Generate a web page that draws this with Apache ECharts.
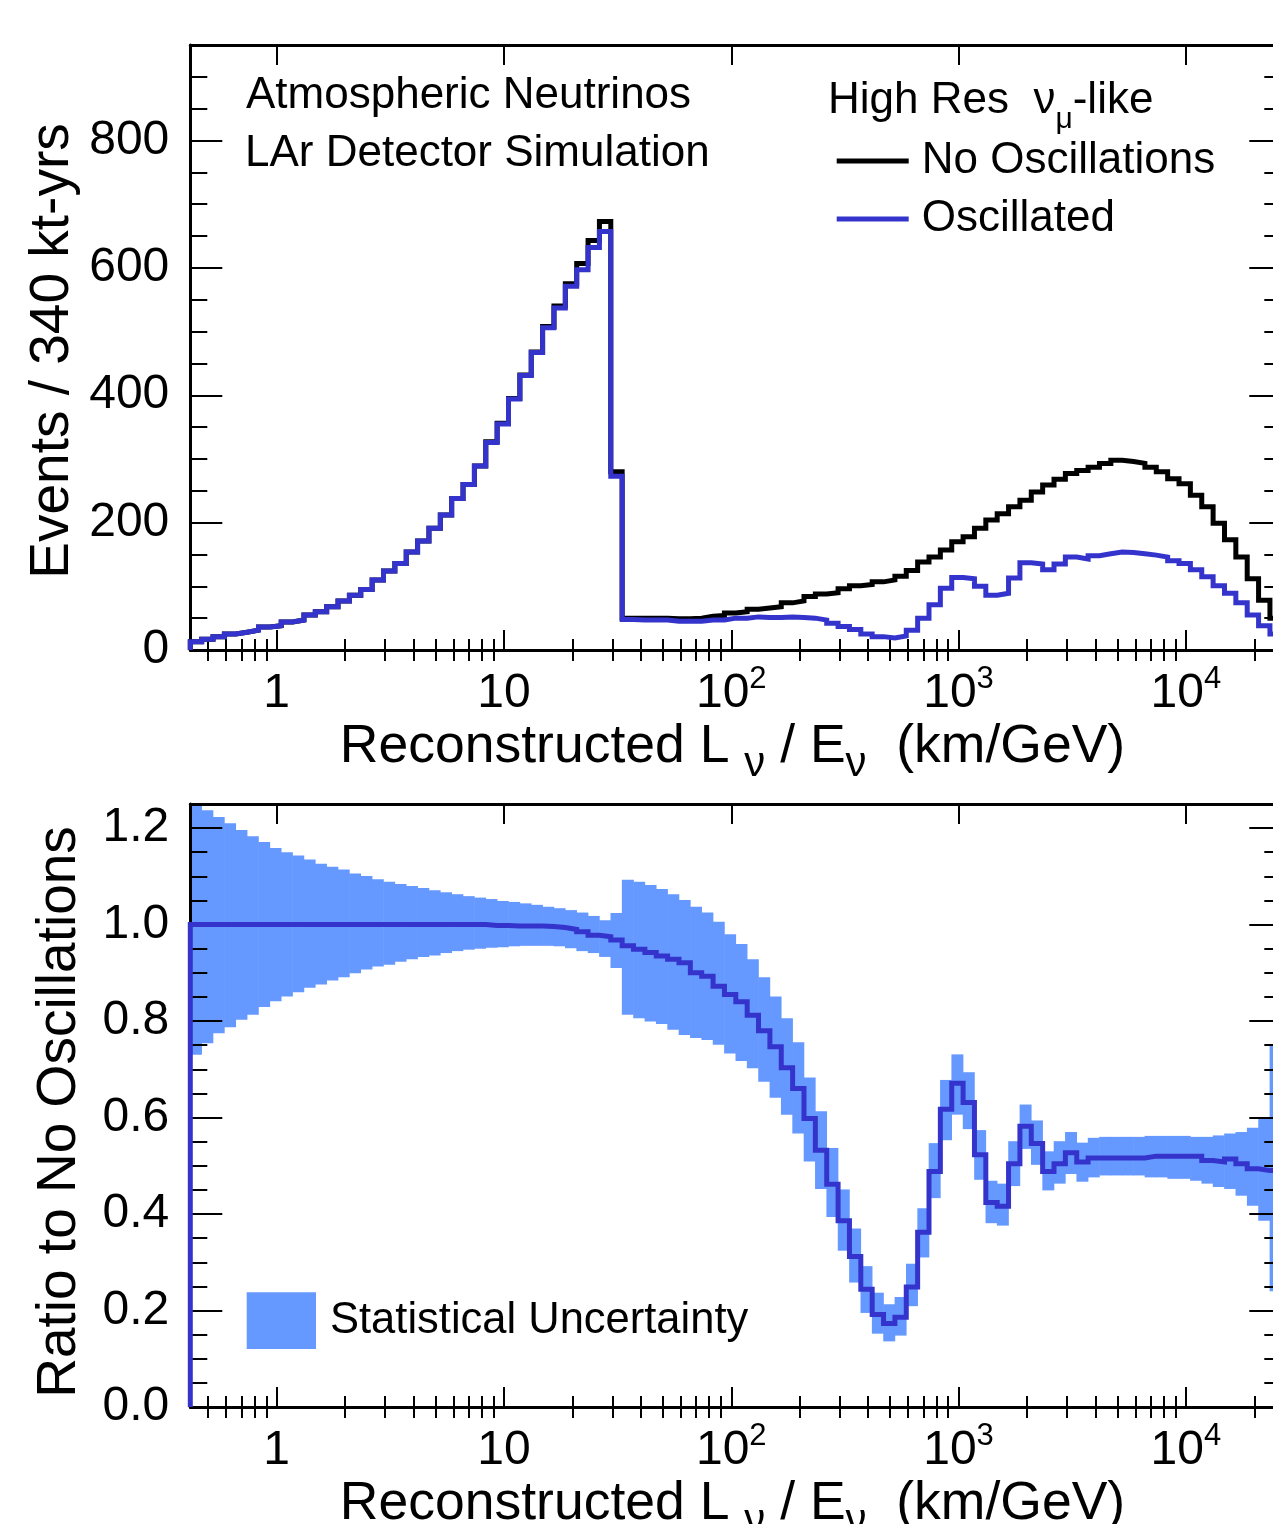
<!DOCTYPE html>
<html>
<head>
<meta charset="utf-8">
<title>Atmospheric Neutrinos – LAr Detector Simulation</title>
<script src="https://cdn.jsdelivr.net/npm/echarts@6.0.0/dist/echarts.min.js"></script>
<style>
html,body{margin:0;padding:0;background:#ffffff;}
#chart{width:1273px;height:1524px;}
</style>
</head>
<body>
<div id="chart"></div>
<script>
// ---------- binning: log10 of reconstructed L/E (km/GeV) ----------
const LOG_EDGE_MIN = -0.38;
const LOG_BIN_WIDTH = 0.05;
const N_BINS = 96;

// ---------- top panel: events / 340 kt-yrs in each bin ----------
const noOscillations = [
  13, 17, 21, 25, 28, 31, 36, 38, 44, 47,
  55, 60, 68, 77, 86, 95, 110, 124, 136, 154,
  171, 191, 212, 238, 260, 289, 327, 356, 395, 432,
  468, 508, 540, 575, 607, 643, 673, 280, 50, 50,
  50, 50, 49, 49, 50, 53, 54, 58, 60, 64,
  66, 68, 74, 77, 84, 88, 90, 96, 101, 103,
  107, 110, 116, 125, 138, 146, 157, 170, 178, 191,
  204, 214, 225, 235, 248, 259, 268, 277, 282, 287,
  293, 298, 296, 293, 287, 280, 269, 261, 243, 225,
  199, 173, 146, 112, 78, 50
];
const oscillated = [
  13, 17, 21, 25, 28, 31, 36, 38, 44, 47,
  55, 60, 68, 77, 86, 95, 110, 124, 136, 154,
  171, 191, 212, 238, 260, 289, 326, 355, 394, 431,
  467, 506, 537, 571, 597, 632, 657, 273, 48, 47,
  47, 47, 45, 45, 45, 47, 47, 50, 50, 52,
  51, 51, 52, 51, 50, 47, 42, 37, 32, 25,
  21, 19, 22, 31, 50, 71, 97, 114, 112, 100,
  86, 89, 113, 137, 135, 126, 135, 146, 143, 148,
  151, 154, 153, 151, 149, 146, 140, 136, 126, 115,
  101, 89, 74, 55, 38, 25
];

// ---------- bottom panel: ratio to no oscillations ----------
const ratioToNoOsc = [
  1, 1, 1, 1, 1, 1, 1, 1, 1, 1,
  1, 1, 1, 1, 1, 1, 1, 1, 1, 1,
  1, 1, 1, 1, 1, 1, 0.998, 0.998, 0.997, 0.997,
  0.997, 0.996, 0.994, 0.990, 0.985, 0.978, 0.975, 0.968, 0.956, 0.949,
  0.942, 0.935, 0.928, 0.921, 0.900, 0.893, 0.872, 0.855, 0.840, 0.812,
  0.780, 0.747, 0.703, 0.660, 0.598, 0.532, 0.462, 0.386, 0.312, 0.244,
  0.192, 0.173, 0.186, 0.249, 0.362, 0.488, 0.617, 0.671, 0.631, 0.523,
  0.424, 0.416, 0.504, 0.582, 0.546, 0.488, 0.504, 0.527, 0.508, 0.516,
  0.516, 0.516, 0.516, 0.516, 0.520, 0.520, 0.520, 0.520, 0.520, 0.511,
  0.508, 0.514, 0.504, 0.494, 0.490, 0.490
];
const statHigh = [
  1.270, 1.237, 1.223, 1.210, 1.196, 1.183, 1.171, 1.159, 1.150, 1.143,
  1.135, 1.126, 1.120, 1.114, 1.106, 1.101, 1.094, 1.089, 1.084, 1.080,
  1.076, 1.071, 1.067, 1.063, 1.059, 1.056, 1.053, 1.049, 1.047, 1.044,
  1.041, 1.037, 1.034, 1.030, 1.025, 1.018, 1.009, 1.024, 1.093, 1.089,
  1.082, 1.074, 1.063, 1.051, 1.037, 1.025, 1.006, 0.980, 0.960, 0.928,
  0.891, 0.851, 0.806, 0.756, 0.683, 0.613, 0.537, 0.451, 0.370, 0.292,
  0.237, 0.213, 0.228, 0.297, 0.412, 0.547, 0.678, 0.731, 0.694, 0.574,
  0.469, 0.463, 0.551, 0.627, 0.594, 0.530, 0.551, 0.570, 0.548, 0.558,
  0.560, 0.560, 0.560, 0.560, 0.562, 0.562, 0.562, 0.562, 0.560, 0.560,
  0.563, 0.567, 0.570, 0.579, 0.598, 0.750
];
const statLow = [
  0.730, 0.754, 0.775, 0.787, 0.803, 0.813, 0.829, 0.841, 0.851, 0.860,
  0.869, 0.876, 0.884, 0.891, 0.899, 0.907, 0.913, 0.917, 0.923, 0.928,
  0.933, 0.936, 0.941, 0.945, 0.948, 0.950, 0.952, 0.953, 0.955, 0.956,
  0.956, 0.956, 0.955, 0.951, 0.945, 0.941, 0.933, 0.910, 0.813, 0.806,
  0.799, 0.794, 0.782, 0.771, 0.765, 0.761, 0.751, 0.733, 0.717, 0.702,
  0.674, 0.641, 0.606, 0.567, 0.509, 0.452, 0.394, 0.324, 0.258, 0.195,
  0.152, 0.136, 0.148, 0.209, 0.310, 0.433, 0.553, 0.606, 0.576, 0.471,
  0.381, 0.376, 0.458, 0.535, 0.502, 0.449, 0.463, 0.483, 0.467, 0.476,
  0.480, 0.480, 0.480, 0.480, 0.476, 0.476, 0.473, 0.473, 0.469, 0.463,
  0.456, 0.452, 0.438, 0.417, 0.386, 0.240
];

// ---------- ticks and labels ----------
const xMajorTicks = [1, 10, 100, 1000, 10000];
const xMajorExponents = [0, 1, 2, 3, 4];
const xMinorTicks = [
  0.5, 0.6, 0.7, 0.8, 0.9,
  2, 3, 4, 5, 6, 7, 8, 9,
  20, 30, 40, 50, 60, 70, 80, 90,
  200, 300, 400, 500, 600, 700, 800, 900,
  2000, 3000, 4000, 5000, 6000, 7000, 8000, 9000,
  20000
];
const yTopTicks = [0, 200, 400, 600, 800];
const yBottomTicks = [0.0, 0.2, 0.4, 0.6, 0.8, 1.0, 1.2];

// ---------- texts ----------
const TEXT_LINE1 = 'Atmospheric Neutrinos';
const TEXT_LINE2 = 'LAr Detector Simulation';
const LEGEND_HEADER = '{m|High Res  \u03bd}{s|\u03bc}{m|-like}';
const X_TITLE = '{m|Reconstructed L }{s|\u03bd}{m| / E}{s|\u03bd}{m|  (km/GeV)}';
const Y_TITLE_TOP = 'Events / 340 kt-yrs';
const Y_TITLE_BOTTOM = 'Ratio to No Oscillations';

// ---------- style ----------
const FONT = '"Liberation Sans", Arial, Helvetica, sans-serif';
const BLUE = '#3434cc';
const BAND = '#6699ff';

const X_MIN = Math.pow(10, LOG_EDGE_MIN);
const X_MAX = Math.pow(10, LOG_EDGE_MIN + LOG_BIN_WIDTH * N_BINS);
const binEdge = i => Math.pow(10, LOG_EDGE_MIN + LOG_BIN_WIDTH * i);

function stepOutline(values) {
  const pts = [[binEdge(0), 0]];
  values.forEach((v, i) => { pts.push([binEdge(i), v]); pts.push([binEdge(i + 1), v]); });
  pts.push([binEdge(values.length), 0]);
  return pts;
}
const bandData = statLow.map((lo, i) => [binEdge(i), binEdge(i + 1), lo, statHigh[i]]);

function xLabel(v) {
  for (let i = 0; i < xMajorTicks.length; i++) {
    if (Math.abs(v - xMajorTicks[i]) / xMajorTicks[i] < 1e-6) {
      const e = xMajorExponents[i];
      if (e === 0) return '{b|1}';
      if (e === 1) return '{b|10}';
      return '{b|10}{s|' + e + '}';
    }
  }
  return '';
}
const xRich = {
  b: { fontSize: 48, lineHeight: 60, fontFamily: FONT, color: '#000' },
  s: { fontSize: 31, lineHeight: 60, padding: [0, 0, 29, 0], fontFamily: FONT, color: '#000' }
};
const tickStyle = { color: '#000', width: 2 };
const frameLine = { show: true, onZero: false, lineStyle: { color: '#000', width: 3 } };

function xAxesFor(g) {
  const base = { type: 'log', logBase: 10, gridIndex: g, min: X_MIN, max: X_MAX, splitLine: { show: false }, z: 2 };
  return [
    Object.assign({}, base, { position: 'bottom', axisLine: frameLine,
      axisTick: { show: true, inside: true, length: 20, lineStyle: tickStyle },
      axisLabel: { show: true, margin: 14, formatter: xLabel, rich: xRich, color: '#000', fontFamily: FONT } }),
    Object.assign({}, base, { position: 'bottom', axisLine: { show: false },
      axisTick: { show: true, inside: true, length: 11, lineStyle: tickStyle, customValues: xMinorTicks },
      axisLabel: { show: false } }),
    Object.assign({}, base, { position: 'top', axisLine: frameLine,
      axisTick: { show: true, inside: true, length: 20, lineStyle: tickStyle },
      axisLabel: { show: false } }),
    Object.assign({}, base, { position: 'top', axisLine: { show: false },
      axisTick: { show: true, inside: true, length: 11, lineStyle: tickStyle, customValues: xMinorTicks },
      axisLabel: { show: false } })
  ];
}
function yAxesFor(g, max, majorInt, minorInt, fmt) {
  const base = { type: 'value', gridIndex: g, min: 0, max: max, splitLine: { show: false }, z: 2 };
  return [
    Object.assign({}, base, { position: 'left', interval: majorInt, axisLine: frameLine,
      axisTick: { show: true, inside: true, length: 32, lineStyle: tickStyle },
      axisLabel: { show: true, margin: 21, fontSize: 48, fontFamily: FONT, color: '#000', formatter: fmt } }),
    Object.assign({}, base, { position: 'left', interval: minorInt, axisLine: { show: false },
      axisTick: { show: true, inside: true, length: 17, lineStyle: tickStyle },
      axisLabel: { show: false } }),
    Object.assign({}, base, { position: 'right', interval: majorInt, axisLine: frameLine,
      axisTick: { show: true, inside: true, length: 32, lineStyle: tickStyle },
      axisLabel: { show: false } }),
    Object.assign({}, base, { position: 'right', interval: minorInt, axisLine: { show: false },
      axisTick: { show: true, inside: true, length: 17, lineStyle: tickStyle },
      axisLabel: { show: false } })
  ];
}
const fmtTop = v => (yTopTicks.indexOf(v) >= 0 ? String(v) : '');
const fmtBottom = v => {
  const hit = yBottomTicks.find(t => Math.abs(t - v) < 1e-9);
  return hit === undefined ? '' : hit.toFixed(1);
};

const chart = echarts.init(document.getElementById('chart'), null, { renderer: 'canvas' });

const titleRich = {
  m: { fontSize: 53.5, fontFamily: FONT, color: '#000' },
  s: { fontSize: 42, fontFamily: FONT, color: '#000', padding: [34, 0, 0, 0] }
};

const option = {
  animation: false,
  backgroundColor: '#ffffff',
  textStyle: { fontFamily: FONT, color: '#000' },
  grid: [
    { left: 190.3, top: 45, width: 1091, height: 605, containLabel: false, outerBoundsMode: 'none' },
    { left: 190.3, top: 804, width: 1091, height: 603, containLabel: false, outerBoundsMode: 'none' }
  ],
  xAxis: xAxesFor(0).concat(xAxesFor(1)),
  yAxis: yAxesFor(0, 950, 200, 50, fmtTop).concat(yAxesFor(1, 1.25, 0.2, 0.05, fmtBottom)),
  legend: [
    {
      data: ['No Oscillations', 'Oscillated'], orient: 'vertical', left: 836.7, top: 139, padding: 0,
      itemGap: 14, itemWidth: 72, itemHeight: 5, icon: 'rect', selectedMode: false,
      itemStyle: { borderWidth: 0 },
      textStyle: { fontSize: 44, lineHeight: 44, fontFamily: FONT, color: '#000', padding: [0, 0, 0, 8] }
    },
    {
      data: ['Statistical Uncertainty'], orient: 'vertical', left: 246.7, top: 1292.3, padding: 0,
      itemWidth: 69.3, itemHeight: 56.7, icon: 'rect', selectedMode: false,
      itemStyle: { borderWidth: 0 },
      textStyle: { fontSize: 43.5, lineHeight: 44, fontFamily: FONT, color: '#000', padding: [0, 0, 0, 9] }
    }
  ],
  series: [
    {
      type: 'line', name: 'No Oscillations', xAxisIndex: 0, yAxisIndex: 0, z: 3,
      data: stepOutline(noOscillations), showSymbol: false, symbol: 'none',
      lineStyle: { color: '#000', width: 5, join: 'miter' }, itemStyle: { color: '#000' }
    },
    {
      type: 'line', name: 'Oscillated', xAxisIndex: 0, yAxisIndex: 0, z: 4,
      data: stepOutline(oscillated), showSymbol: false, symbol: 'none',
      lineStyle: { color: BLUE, width: 5, join: 'miter' }, itemStyle: { color: BLUE }
    },
    {
      type: 'custom', name: 'Statistical Uncertainty', xAxisIndex: 4, yAxisIndex: 4, z: 1,
      data: bandData, encode: { x: [0, 1], y: [2, 3] }, itemStyle: { color: BAND },
      renderItem: function (params, api) {
        const p0 = api.coord([api.value(0), api.value(3)]);
        const p1 = api.coord([api.value(1), api.value(2)]);
        const cs = params.coordSys;
        const rect = echarts.graphic.clipRectByRect(
          { x: p0[0] - 0.3, y: p0[1], width: p1[0] - p0[0] + 0.6, height: p1[1] - p0[1] },
          { x: cs.x, y: cs.y, width: cs.width, height: cs.height });
        return rect && { type: 'rect', shape: rect, style: { fill: BAND } };
      }
    },
    {
      type: 'line', name: 'Ratio', xAxisIndex: 4, yAxisIndex: 4, z: 3,
      data: stepOutline(ratioToNoOsc), showSymbol: false, symbol: 'none',
      lineStyle: { color: BLUE, width: 5, join: 'miter' }, itemStyle: { color: BLUE }
    }
  ],
  graphic: [
    { type: 'text', x: 246, y: 96.3, z: 10,
      style: { text: TEXT_LINE1, fontSize: 44, fontFamily: FONT, fill: '#000', align: 'left', verticalAlign: 'middle' } },
    { type: 'text', x: 245, y: 154.2, z: 10,
      style: { text: TEXT_LINE2, fontSize: 44, fontFamily: FONT, fill: '#000', align: 'left', verticalAlign: 'middle' } },
    { type: 'text', x: 828, y: 101, z: 10,
      style: { text: LEGEND_HEADER, fill: '#000', align: 'left', verticalAlign: 'middle',
        rich: { m: { fontSize: 44, fontFamily: FONT, color: '#000' },
                s: { fontSize: 30, fontFamily: FONT, color: '#000', padding: [37, 0, 0, 0] } } } },
    { type: 'text', x: 732.5, y: 747, z: 10,
      style: { text: X_TITLE, fill: '#000', align: 'center', verticalAlign: 'middle', rich: titleRich } },
    { type: 'text', x: 732.5, y: 1504, z: 10,
      style: { text: X_TITLE, fill: '#000', align: 'center', verticalAlign: 'middle', rich: titleRich } },
    { type: 'text', x: 53, y: 351, rotation: Math.PI / 2, z: 10,
      style: { text: Y_TITLE_TOP, fontSize: 55, fontFamily: FONT, fill: '#000', align: 'center', verticalAlign: 'middle' } },
    { type: 'text', x: 59.5, y: 1112, rotation: Math.PI / 2, z: 10,
      style: { text: Y_TITLE_BOTTOM, fontSize: 55, fontFamily: FONT, fill: '#000', align: 'center', verticalAlign: 'middle' } }
  ]
};
chart.setOption(option);
</script>
</body>
</html>
